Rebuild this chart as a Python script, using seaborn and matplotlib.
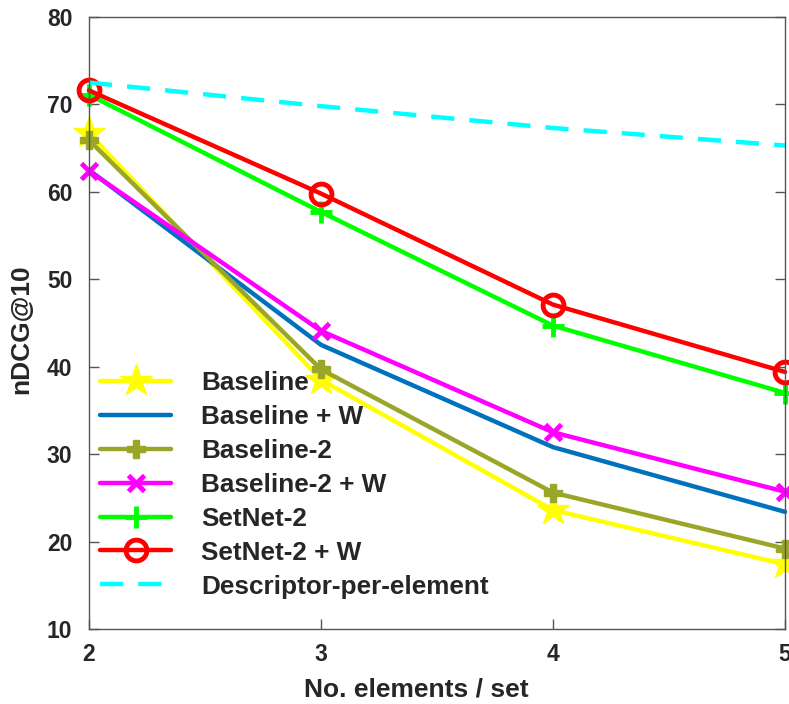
import pandas as pd
import matplotlib
matplotlib.use('Agg')
import matplotlib.pyplot as plt
import seaborn as sns

# Dados
elementos = [2, 3, 4, 5]
baseline = [66.7, 38.5, 23.6, 17.4]
baseline_w = [62.5, 42.5, 30.8, 23.4]
baseline2 = [65.9, 39.7, 25.6, 19.2]
baseline2_w = [62.4, 44.1, 32.5, 25.7]
setnet2 = [71.1, 57.7, 44.7, 37.0]
setnet2_w = [71.6, 59.8, 47.1, 39.4]
descriptor = [72.5, 69.8, 67.3, 65.3]

series = ['Baseline', 'Baseline + W', 'Baseline-2', 'Baseline-2 + W',
          'SetNet-2', 'SetNet-2 + W', 'Descriptor-per-element']
valores = [baseline, baseline_w, baseline2, baseline2_w, setnet2, setnet2_w, descriptor]

# estilos de cada curva (cor, marcador, tamanho, traço)
estilos = {
    'Baseline': ('#FFFF00', '*', 24, '-'),
    'Baseline + W': ('#0072BD', None, 0, '-'),
    'Baseline-2': ('#9AA628', 'P', 13, '-'),
    'Baseline-2 + W': ('#FF00FF', 'x', 12, '-'),
    'SetNet-2': ('#00FF00', '+', 16, '-'),
    'SetNet-2 + W': ('#FF0000', 'o', 15, '-'),
    'Descriptor-per-element': ('#00FFFF', None, 0, (0, (5.2, 3.4))),
}


def montar_dados():
    linhas = []
    for nome, vals in zip(series, valores):
        for x, y in zip(elementos, vals):
            linhas.append({'Serie': nome, 'x': x, 'y': y})
    return pd.DataFrame(linhas)


def plotar(df):
    sns.set_style('white')
    plt.rcParams['font.family'] = ['Liberation Sans', 'DejaVu Sans']
    plt.rcParams['font.weight'] = 'bold'

    fig = plt.figure(figsize=(7.89, 7.04), dpi=100)
    ax = fig.add_axes([0.1128, 0.1065, 0.8822, 0.8694])

    for nome in series:
        cor, marc, tam, traco = estilos[nome]
        sub = df[df['Serie'] == nome]
        sns.lineplot(data=sub, x='x', y='y', ax=ax, color=cor, linewidth=3.2,
                     linestyle=traco, marker=marc, markersize=tam,
                     markeredgewidth=3.5 if marc in ('+', 'o', 'x') else 1,
                     markerfacecolor='none' if marc == 'o' else cor,
                     markeredgecolor=cor, label=nome, clip_on=False)

    ax.set_xlim(2, 5)
    ax.set_ylim(10, 80)
    ax.set_xticks(elementos)
    ax.set_yticks(range(10, 81, 10))
    ax.tick_params(direction='in', length=7, width=1, color='#555555',
                   labelsize=16.5, right=True, left=True, bottom=True)
    ax.tick_params(axis='x', pad=10)
    ax.tick_params(axis='y', pad=12)
    for lbl in ax.get_xticklabels() + ax.get_yticklabels():
        lbl.set_fontweight('bold')
        lbl.set_color('#262626')
    for sp in ax.spines.values():
        sp.set_color('#555555')
        sp.set_linewidth(1)

    ax.set_xlabel('No. elements / set', fontsize=19, fontweight='bold', color='#262626')
    ax.set_ylabel('nDCG@10', fontsize=19, fontweight='bold', color='#262626')
    ax.xaxis.set_label_coords(0.47, -0.08)
    ax.yaxis.set_label_coords(-0.08, 0.49)

    leg = ax.legend(loc='lower left', bbox_to_anchor=(-0.01, 0.02), frameon=False,
                    fontsize=18.8, handlelength=2.7, handletextpad=1.15,
                    labelspacing=0.38, borderaxespad=0.3)
    for t in leg.get_texts():
        t.set_fontweight('bold')

    fig.savefig('out.png', dpi=100)


def main():
    df = montar_dados()
    plotar(df)


if __name__ == "__main__":
    main()
